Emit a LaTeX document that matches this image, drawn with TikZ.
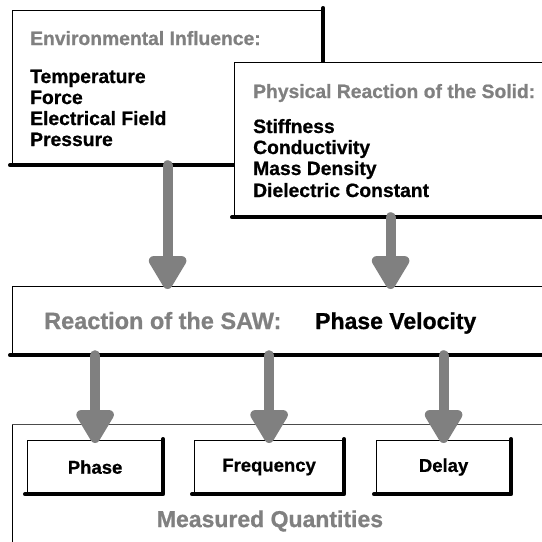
\documentclass[tikz,border=0pt]{standalone}
\usepackage{fontspec}
\setmainfont{Liberation Sans}[BoldFont={Liberation Sans Bold}, BoldFeatures={FakeBold=0.8}]
\usetikzlibrary{arrows.meta}
\definecolor{tgray}{RGB}{128,128,128}
\definecolor{agray}{RGB}{128,128,128}
\newcommand{\fsz}[1]{\fontsize{#1}{#1}\selectfont\bfseries}
\begin{document}
\begin{tikzpicture}[x=1pt,y=-1pt,
  box/.style={draw=black, line width=1.2pt, fill=white, inner sep=0pt, anchor=north west},
  edge/.style={line width=4pt, line cap=round, line join=round},
  arr/.style={draw=agray, fill=agray, line width=10pt, line cap=round,
     -{Triangle[width=42pt,length=38pt,round]}, shorten >=-3pt},
  ttl/.style={anchor=base west, text=tgray, inner sep=0pt},
  itm/.style={anchor=base west, text=black, inner sep=0pt, font=\fsz{19.3}},
  smallbox/.style={box, minimum width=135pt, minimum height=53pt, font=\fsz{18.5}}
]
\useasboundingbox (0,0) rectangle (542,542);
\clip (0,0) rectangle (542,542);
\fill[white] (0,0) rectangle (542,542);

% Environmental influence box
\node[box, minimum width=310pt, minimum height=154pt] (env) at (12,10) {};
\draw[edge] ([xshift=-2pt]env.south west) -- (env.south east) -- ([yshift=2pt]env.north east);
\node[ttl, font=\fsz{19.3}] (envt) at (30,45) {Environmental Influence:};
\node[itm] (env1) at (30,83) {Temperature};
\node[itm] (env2) at (30,104) {Force};
\node[itm] (env3) at (30,125) {Electrical Field};
\node[itm] (env4) at (30,146) {Pressure};

% Physical reaction box
\node[box, minimum width=312pt, minimum height=154pt] (phys) at (234,62) {};
\draw[edge] ([xshift=-2pt]phys.south west) -- (phys.south east);
\node[ttl, font=\fsz{19.3}] (physt) at (253,98) {Physical Reaction of the Solid:};
\node[itm] (phys1) at (253,133) {Stiffness};
\node[itm] (phys2) at (253,154) {Conductivity};
\node[itm] (phys3) at (253,175) {Mass Density};
\node[itm] (phys4) at (253,197) {Dielectric Constant};

% SAW box
\node[box, minimum width=560pt, minimum height=68pt] (saw) at (12,286) {};
\draw[edge] ([xshift=-2pt]saw.south west) -- (saw.south east);
\node[ttl, font=\fsz{23.5}] (sawt) at (44,329) {Reaction of the SAW:};
\node[itm, font=\fsz{23}] (pv) at (315,329) {Phase Velocity};

% Measured quantities box
\node[box, draw=none, minimum width=560pt, minimum height=117pt] (meas) at (12,424) {};
\draw[line width=1pt, black] (meas.north west) -- (meas.south west);
\draw[line width=1pt, black!70] (meas.north west) -- (meas.north east);
\draw[line width=1pt, black!25] (meas.south west) -- (meas.south east);
\node[text=tgray, font=\fsz{23}, inner sep=0pt] (mq) at (270,521) {Measured Quantities};

\node[smallbox] (phase) at (27,440) {Phase};
\node[smallbox, minimum width=149pt] (freq) at (194,440) {Frequency};
\node[smallbox, minimum width=134pt] (delay) at (376,440) {Delay};
\foreach \b in {phase,freq,delay}{
  \draw[edge] ([xshift=-2pt]\b.south west) -- (\b.south east) -- ([yshift=1pt]\b.north east);
}

% Arrows
\draw[arr] (env.south) -- (env.south |- saw.north);
\draw[arr] (phys.south) -- (phys.south |- saw.north);
\draw[arr] (phase.north |- saw.south) -- (phase.north);
\draw[arr] (freq.north |- saw.south) -- (freq.north);
\draw[arr] (delay.north |- saw.south) -- (delay.north);
\end{tikzpicture}
\end{document}
